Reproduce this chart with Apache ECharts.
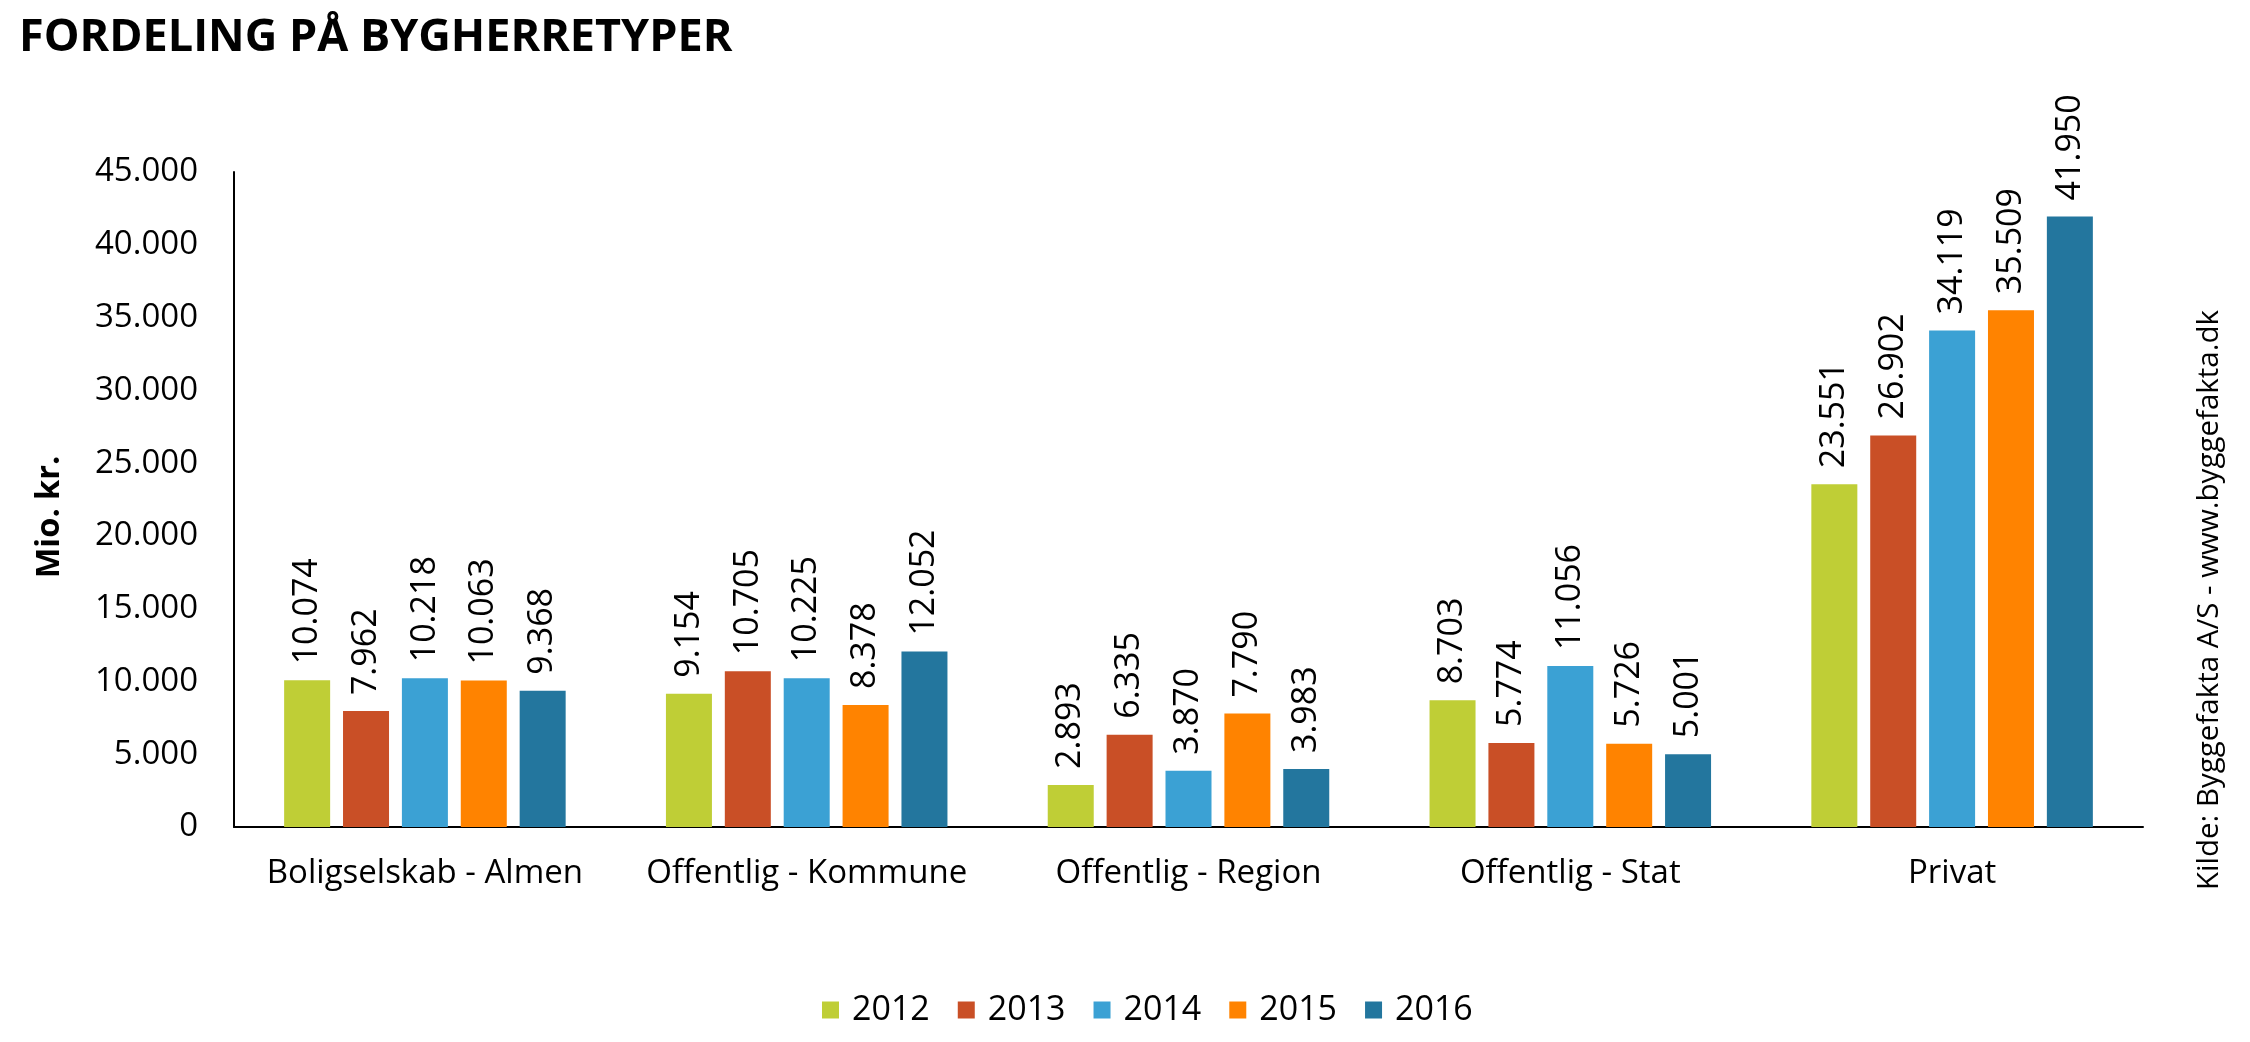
<!DOCTYPE html>
<html>
<head>
<meta charset="utf-8">
<script src="https://cdn.jsdelivr.net/npm/echarts@6/dist/echarts.min.js"></script>
<style>
html,body{margin:0;padding:0;background:#fff;}
#chart{width:2250px;height:1042px;}
</style>
</head>
<body>
<div id="chart"></div>
<script>
const categories = ['Boligselskab - Almen', 'Offentlig - Kommune', 'Offentlig - Region', 'Offentlig - Stat', 'Privat'];
const years = ['2012', '2013', '2014', '2015', '2016'];
const v2012 = [10074, 9154, 2893, 8703, 23551];
const v2013 = [7962, 10705, 6335, 5774, 26902];
const v2014 = [10218, 10225, 3870, 11056, 34119];
const v2015 = [10063, 8378, 7790, 5726, 35509];
const v2016 = [9368, 12052, 3983, 5001, 41950];
const yTicks = [0, 5000, 10000, 15000, 20000, 25000, 30000, 35000, 40000, 45000];

const seriesValues = [v2012, v2013, v2014, v2015, v2016];
const colors = ['#BFCE36', '#C94F26', '#3BA1D4', '#FF8300', '#23769E'];
const FONT = '"Open Sans", sans-serif';

function fmt(v) {
  return String(v).replace(/\B(?=(\d{3})+(?!\d))/g, '.');
}

const chart = echarts.init(document.getElementById('chart'), null, {renderer: 'canvas'});
const option = {
  backgroundColor: '#ffffff',
  animation: false,
  color: colors,
  title: {
    text: 'FORDELING PÅ BYGHERRETYPER',
    left: 14,
    top: 11,
    textStyle: {fontFamily: FONT, fontWeight: 'bold', fontSize: 45, color: '#000'}
  },
  legend: {
    data: years,
    left: 817,
    top: 988,
    itemWidth: 17,
    itemHeight: 17,
    itemGap: 28,
    icon: 'rect',
    textStyle: {fontFamily: FONT, fontSize: 34, color: '#000', padding: [0, 0, 0, 8]}
  },
  grid: {left: 234, right: 107, top: 172, bottom: 215, containLabel: false},
  xAxis: {
    type: 'category',
    data: categories,
    axisLine: {lineStyle: {color: '#000', width: 2}},
    axisTick: {show: false},
    axisLabel: {interval: 0, fontFamily: FONT, fontSize: 33, color: '#000', margin: 30}
  },
  yAxis: {
    type: 'value',
    min: yTicks[0],
    max: yTicks[yTicks.length - 1],
    interval: yTicks[1] - yTicks[0],
    axisLine: {show: true, lineStyle: {color: '#000', width: 2}},
    axisTick: {show: false},
    splitLine: {show: false},
    axisLabel: {fontFamily: FONT, fontSize: 33, color: '#000', margin: 36, formatter: v => fmt(v)}
  },
  series: years.map((y, i) => ({
    name: y,
    type: 'bar',
    data: seriesValues[i],
    barWidth: 46,
    barGap: '28%',
    itemStyle: {color: colors[i]},
    label: {
      show: true,
      position: 'top',
      rotate: 90,
      align: 'left',
      verticalAlign: 'middle',
      distance: 16,
      fontFamily: FONT,
      fontSize: 34,
      color: '#000',
      formatter: p => fmt(p.value)
    }
  })),
  graphic: [{
    type: 'text',
    x: 50,
    y: 517,
    rotation: Math.PI / 2,
    style: {
      text: 'Mio. kr.',
      fontFamily: FONT,
      fontWeight: 'bold',
      fontSize: 32.5,
      fill: '#000',
      align: 'center',
      verticalAlign: 'middle'
    }
  }, {
    type: 'text',
    x: 2210,
    y: 600,
    rotation: Math.PI / 2,
    style: {
      text: 'Kilde: Byggefakta A/S - www.byggefakta.dk',
      fontFamily: FONT,
      fontSize: 29.5,
      fill: '#000',
      align: 'center',
      verticalAlign: 'middle'
    }
  }]
};
chart.setOption(option);
</script>
</body>
</html>
